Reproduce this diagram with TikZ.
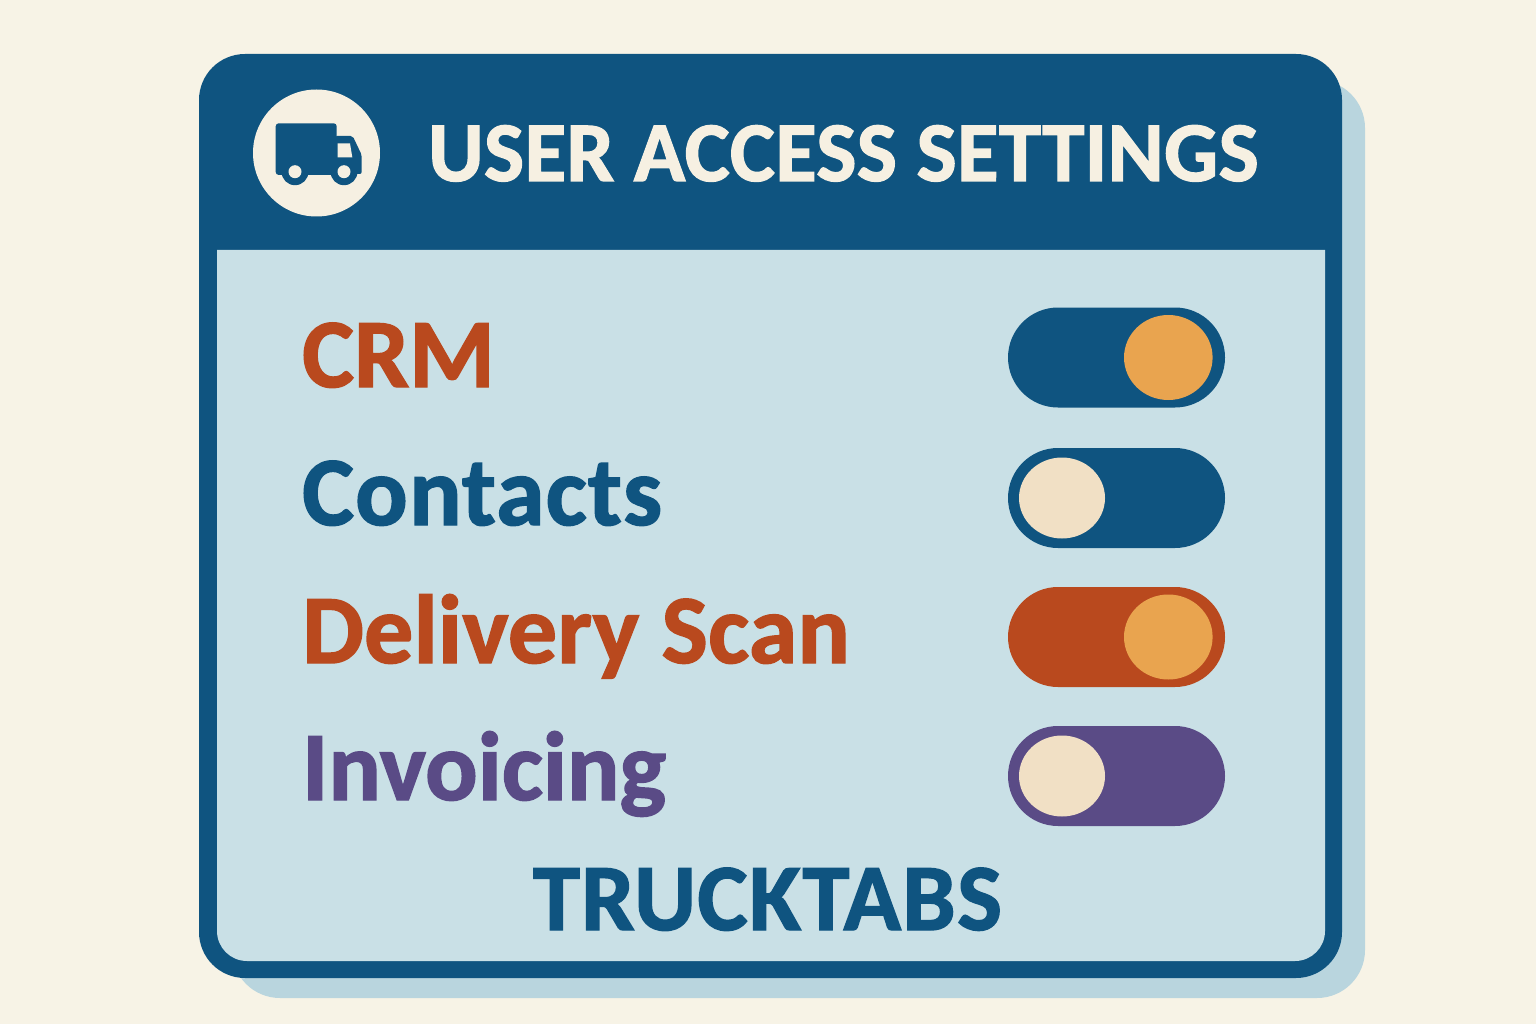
\documentclass[tikz,border=0pt]{standalone}
\usepackage{fontspec}
\setmainfont{Carlito}[BoldFeatures={FakeBold=1.5},Ligatures=NoCommon]
\definecolor{bgc}{HTML}{F7F3E6}
\definecolor{navy}{HTML}{0F5480}
\definecolor{pale}{HTML}{C9E0E6}
\definecolor{backing}{HTML}{B9D5DE}
\definecolor{rust}{HTML}{B9491E}
\definecolor{plum}{HTML}{5A4B86}
\definecolor{amber}{HTML}{E9A44F}
\definecolor{creamk}{HTML}{F1E0C5}
\definecolor{creamw}{HTML}{F6F0E2}
\tikzset{
  rowlabel/.style={anchor=base west,inner sep=0pt,font=\fontsize{98}{98}\selectfont\bfseries},
  headlabel/.style={anchor=base west,inner sep=0pt,text=creamw,font=\fontsize{85}{85}\selectfont\bfseries},
  footlabel/.style={anchor=base,inner sep=0pt,text=navy,font=\fontsize{95}{95}\selectfont\bfseries}
}
\newcommand{\toggleOn}[2]{% center y, track colour
  \fill[#2,rounded corners=50pt] (1008,#1-50) rectangle (1225,#1+50);
  \fill[amber] (1168.3,#1) ellipse [x radius=44.3,y radius=42.5];
}
\newcommand{\toggleOff}[2]{%
  \fill[#2,rounded corners=50pt] (1008,#1-50) rectangle (1225,#1+50);
  \fill[creamk] (1062,#1) ellipse [x radius=43,y radius=40.5];
}
\begin{document}
\begin{tikzpicture}[x=1pt,y=-1pt]
\useasboundingbox (0,0) rectangle (1536,1024);
\fill[bgc] (0,0) rectangle (1536,1024);
% offset backing
\fill[backing,rounded corners=48pt] (232,80) rectangle (1365,998);
% panel
\fill[navy,rounded corners=46pt] (199,54) rectangle (1342,978);
\fill[pale] (217,250) -- (1325,250) -- (1325,931) arc[start angle=0,end angle=90,radius=30] -- (247,961) arc[start angle=90,end angle=180,radius=30] -- cycle;
% header icon
\fill[creamw] (316.5,153) circle (63.5);
\fill[navy,rounded corners=3pt] (275.7,123.3) -- (336.7,123.3) -- (336.7,175) -- (275.7,175) -- cycle;
\fill[navy,rounded corners=2pt] (335,136) -- (352.7,136) -- (361.7,155) -- (361.7,174) -- (335,174) -- cycle;
\fill[creamw] (337.7,143.3) -- (350,143.3) -- (352.3,157.3) -- (337.7,157.3) -- cycle;
\fill[navy] (295,171.7) circle (13.5) (344,171.7) circle (13.5);
\fill[creamw] (295,171.7) circle (6.5) (344,171.7) circle (6.5);
\node[headlabel] (title) at (428,181) {\addfontfeatures{LetterSpace=0.4}USER ACCESS SETTINGS};
% rows
\node[rowlabel,text=rust] (crm) at (302,387) {CRM};
\node[rowlabel,text=navy] (contacts) at (302,525) {\addfontfeatures{LetterSpace=1.2}Contacts};
\node[rowlabel,text=rust] (delivery) at (302,663) {\addfontfeatures{LetterSpace=0.2}Delivery Scan};
\node[rowlabel,text=plum] (invoicing) at (302,800) {Invoicing};
\toggleOn{357.5}{navy}
\toggleOff{498}{navy}
\toggleOn{637}{rust}
\toggleOff{776}{plum}
\node[footlabel] (brand) at (767.5,930) {\addfontfeatures{LetterSpace=1.5}TRUCKTABS};
\end{tikzpicture}
\end{document}
